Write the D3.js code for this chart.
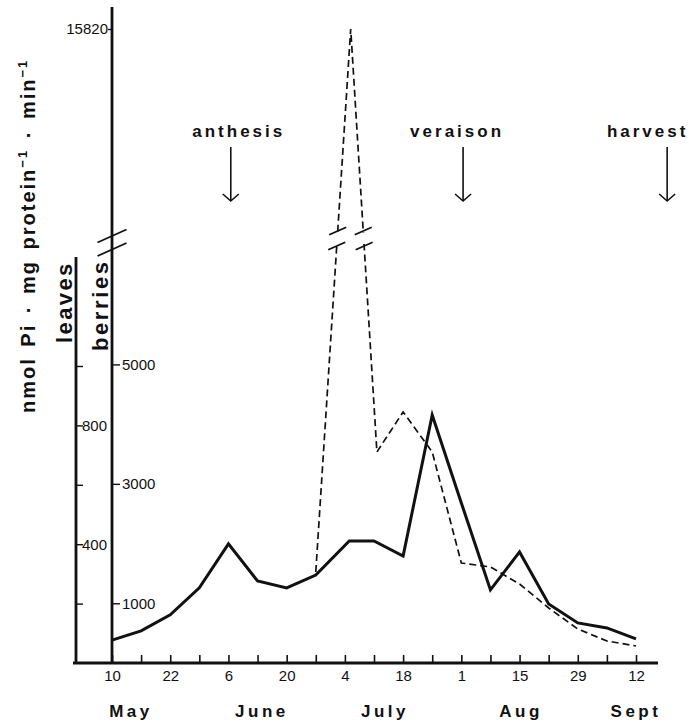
<!DOCTYPE html>
<html><head><meta charset="utf-8">
<script src="https://cdn.jsdelivr.net/npm/d3@7"></script>
<style>
body{margin:0;background:#fff}
svg{display:block}
text{font-family:"Liberation Sans",Arial,Helvetica,sans-serif;fill:#111}
</style>
</head><body>
<svg id="c" width="689" height="724"></svg>
<script>
// ---- data ----
const tickLabels = ["10","","22","","6","","20","","4","","18","","1","","15","","29","","12"];
const months = ["May","June","July","Aug","Sept"];
const monthWeeks = [0.65,5.15,9.38,14.05,18];
// leaves (solid line), weeks since 10 May
const leavesWeeks  = [0,1,2,3,4,5,6,7,8.15,9,10,11,12,13,14,15,16,17,18];
const leavesValues = [77,108,162,253,401,276,253,296,411,411,360,835,539,246,374,199,135,118,81];
// berries (dashed line)
const berriesWeeks  = [7,8.2,9.1,10,11,12,13,14,15,16,17,18];
const berriesValues = [1524,15820,3534,4204,3534,1675,1608,1323,921,570,369,285];
const leavesTicks = [200,400,600,800,1000];
const leavesTickLabels = ["","400","","800",""];
const berriesTicks = [1000,3000,5000];
const berriesTopTick = [15820];
const berriesBreak = 7100;
const events = ["anthesis","veraison","harvest"];
const eventWeeks = [4.08,12.06,19.07];

// ---- layout ----
const svg = d3.select("#c");
const ink = "#111";
const x = d3.scaleLinear().domain([0,18]).range([112,636]);
const yL = d3.scaleLinear().domain([0,1000]).range([663,366]);
const yB = d3.scaleLinear().domain([0,berriesBreak,15820]).range([663,239,29]);
const baseY = yB(0);
const breakY = yB(berriesBreak);

// x axis
svg.append("line").attr("x1",73).attr("x2",658).attr("y1",baseY).attr("y2",baseY)
  .attr("stroke",ink).attr("stroke-width",2.8);
const xa = svg.append("g").attr("transform",`translate(0,${baseY})`)
  .call(d3.axisBottom(x).tickValues(d3.range(19)).tickSize(-8).tickPadding(7)
        .tickFormat((d,i)=>tickLabels[i]));
xa.select(".domain").remove();
xa.selectAll("line").attr("stroke",ink).attr("stroke-width",1.6);
xa.selectAll("text").attr("font-size",15).attr("fill",ink).style("font-family",null);

// month labels
svg.selectAll("text.month").data(months).join("text").attr("class","month")
  .attr("x",(d,i)=>x(monthWeeks[i])).attr("y",717).attr("text-anchor","middle")
  .attr("font-size",17).attr("font-weight","bold").attr("letter-spacing",3.5).text(d=>d);

// berries axis
const bx = x(0);
svg.append("line").attr("x1",bx).attr("x2",bx).attr("y1",7).attr("y2",baseY)
  .attr("stroke",ink).attr("stroke-width",2.8);
const ba = svg.append("g").attr("transform",`translate(${bx},0)`)
  .call(d3.axisRight(yB).tickValues(berriesTicks).tickSize(8).tickPadding(2).tickFormat(d3.format("d")));
ba.select(".domain").remove();
ba.selectAll("line").attr("stroke",ink).attr("stroke-width",1.4);
ba.selectAll("text").attr("font-size",15).attr("fill",ink);
const bt = svg.append("g").attr("transform",`translate(${bx},0)`)
  .call(d3.axisLeft(yB).tickValues(berriesTopTick).tickSize(4).tickPadding(0).tickFormat(d3.format("d")));
bt.select(".domain").remove();
bt.selectAll("line").attr("stroke",ink).attr("stroke-width",1.4);
bt.selectAll("text").attr("font-size",15).attr("fill",ink);

// axis break marks
[breakY-3, breakY+10.5].forEach(cy=>{
  svg.append("line").attr("x1",bx-14.5).attr("y1",cy+6.5).attr("x2",bx+14.5).attr("y2",cy-6.5)
    .attr("stroke",ink).attr("stroke-width",1.8);
});

// leaves axis
const lx = 76;
svg.append("line").attr("x1",lx).attr("x2",lx).attr("y1",257).attr("y2",baseY)
  .attr("stroke",ink).attr("stroke-width",2.8);
const la = svg.append("g").attr("transform",`translate(${lx},0)`)
  .call(d3.axisRight(yL).tickValues(leavesTicks).tickSize(7).tickPadding(-1)
        .tickFormat((d,i)=>leavesTickLabels[i]));
la.select(".domain").remove();
la.selectAll("line").attr("stroke",ink).attr("stroke-width",1.4);
la.selectAll("text").attr("font-size",15).attr("fill",ink);

// axis captions
svg.append("text").attr("transform",`translate(72,343) rotate(-90)`)
  .attr("font-size",22).attr("font-weight","bold").attr("letter-spacing",2.4).text("leaves");
svg.append("text").attr("transform",`translate(108,351) rotate(-90)`)
  .attr("font-size",22).attr("font-weight","bold").attr("letter-spacing",2.6).text("berries");
const title = svg.append("text").attr("transform",`translate(35,413) rotate(-90)`)
  .attr("font-size",20).attr("font-weight","bold").attr("letter-spacing",2).attr("word-spacing",3);
title.append("tspan").text("nmol Pi \u00b7 mg protein");
title.append("tspan").attr("dy",-8).attr("font-size",13).text("\u22121");
title.append("tspan").attr("dy",8).text(" \u00b7 min");
title.append("tspan").attr("dy",-8).attr("font-size",13).text("\u22121");

// data lines
const defs = svg.append("defs");
const mask = defs.append("mask").attr("id","gap").attr("maskUnits","userSpaceOnUse");
mask.append("rect").attr("x",0).attr("y",0).attr("width",689).attr("height",724).attr("fill","#fff");
mask.append("rect").attr("x",0).attr("y",breakY-6).attr("width",689).attr("height",11).attr("fill","#000");

const leavesData = leavesWeeks.map((w,i)=>({w, v:leavesValues[i]}));
const berriesData = berriesWeeks.map((w,i)=>({w, v:berriesValues[i]}));

svg.append("path").datum(berriesData)
  .attr("d",d3.line().x(d=>x(d.w)).y(d=>yB(d.v)))
  .attr("fill","none").attr("stroke",ink).attr("stroke-width",1.7)
  .attr("stroke-dasharray","7,4").attr("mask","url(#gap)");

svg.append("path").datum(leavesData)
  .attr("d",d3.line().x(d=>x(d.w)).y(d=>yL(d.v)))
  .attr("fill","none").attr("stroke",ink).attr("stroke-width",3).attr("stroke-linejoin","miter");

// break marks on the dashed line
for(let i=0;i<berriesData.length-1;i++){
  const a=berriesData[i], b=berriesData[i+1];
  if((a.v-berriesBreak)*(b.v-berriesBreak)<0){
    const x0=x(a.w), y0=yB(a.v), x1=x(b.w), y1=yB(b.v);
    [breakY-8, breakY+7].forEach(cy=>{
      const t=(cy-y0)/(y1-y0), cx=x0+t*(x1-x0);
      svg.append("line").attr("x1",cx-8.5).attr("y1",cy+3.8).attr("x2",cx+8.5).attr("y2",cy-3.8)
        .attr("stroke",ink).attr("stroke-width",1.8);
    });
  }
}

// event annotations
const evOffset = [8,-6,-19.5];
events.forEach((e,i)=>{
  const ax = x(eventWeeks[i]);
  svg.append("text").attr("x",ax+evOffset[i]).attr("y",137).attr("text-anchor","middle")
    .attr("font-size",17).attr("font-weight","bold").attr("letter-spacing",3).text(e);
  svg.append("line").attr("x1",ax).attr("x2",ax).attr("y1",147).attr("y2",201)
    .attr("stroke",ink).attr("stroke-width",1.6);
  svg.append("path").attr("d",`M${ax-8},${194}L${ax},${201}L${ax+8},${194}`)
    .attr("fill","none").attr("stroke",ink).attr("stroke-width",1.6);
});
</script>
</body></html>
